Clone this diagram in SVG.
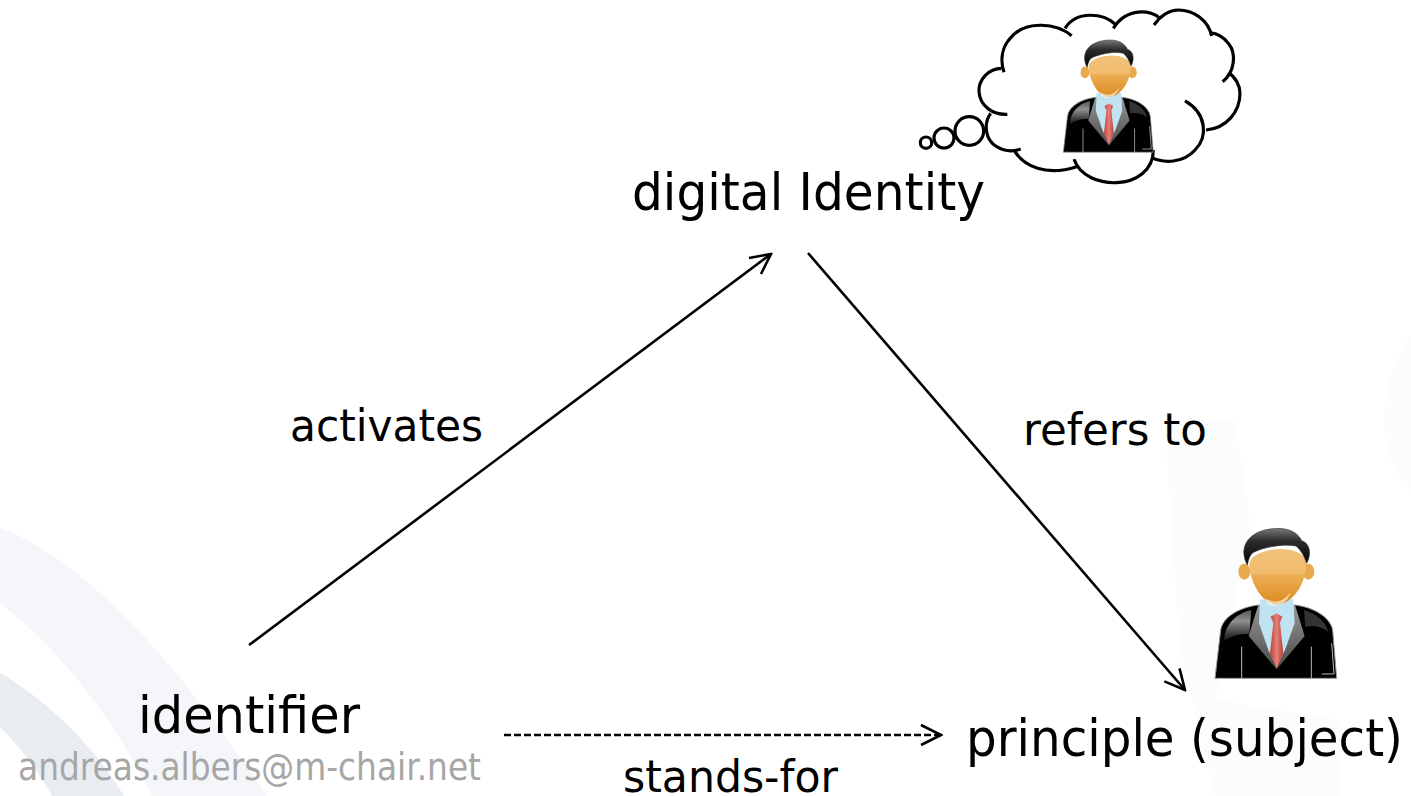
<svg xmlns="http://www.w3.org/2000/svg" xmlns:xlink="http://www.w3.org/1999/xlink" width="1411" height="796" viewBox="0 0 1411 796">
<style>
text{font-family:"DejaVu Sans","Noto Sans",sans-serif;fill:#000}
.big{font-size:51px}
.lbl{font-size:45px}
.conn{fill:none;stroke:#000;stroke-width:2.6}
.cl{fill:none;stroke:#000;stroke-width:9.5;stroke-linecap:butt}
</style>
<defs>
<marker id="arr" viewBox="-22 -12 24 24" markerWidth="24" markerHeight="24" refX="0" refY="0" orient="auto" markerUnits="userSpaceOnUse"><path d="M-20,-10 L0,0 L-20,10" fill="none" stroke="#000" stroke-width="2.6"/></marker>
<linearGradient id="face" x1="0" y1="0" x2="0" y2="1"><stop offset="0" stop-color="#f2c27c"/><stop offset=".45" stop-color="#f1bb6c"/><stop offset=".46" stop-color="#eeae55"/><stop offset="1" stop-color="#dc8a1e"/></linearGradient>
<linearGradient id="hair" x1="0" y1="0" x2="0" y2="1"><stop offset="0" stop-color="#777"/><stop offset=".35" stop-color="#2c2c2c"/><stop offset="1" stop-color="#000"/></linearGradient>
<linearGradient id="shine" x1="0" y1="0" x2="0" y2="1"><stop offset="0" stop-color="#555"/><stop offset=".35" stop-color="#8f8f8f"/><stop offset="1" stop-color="#0a0a0a"/></linearGradient>
<linearGradient id="lap" x1="0" y1="0" x2="0" y2="1"><stop offset="0" stop-color="#969696"/><stop offset="1" stop-color="#4a4a4a"/></linearGradient>
<linearGradient id="tie" x1="0" y1="0" x2="1" y2="0"><stop offset="0" stop-color="#b8403a"/><stop offset=".5" stop-color="#e88078"/><stop offset="1" stop-color="#b8403a"/></linearGradient>
<symbol id="person" overflow="visible" viewBox="0 0 783 600" width="783" height="600">
<path d="M195,505 L212,360 C218,320 270,292 325,285 L435,285 C490,292 540,320 548,360 L560,505 Z" fill="#000" stroke="#999" stroke-width="3"/>
<path d="M222,395 C222,340 265,308 304,300 L298,372 C270,370 240,378 222,395 Z" fill="url(#shine)"/>
<path d="M462,300 C495,310 525,330 535,365 C515,350 490,345 466,350 Z" fill="#333"/>
<path d="M325,285 L296,378 L380,478 L464,378 L435,285 Z" fill="url(#lap)"/>
<path d="M330,268 L430,268 L434,340 L405,420 L380,470 L355,420 L327,340 Z" fill="#bfe3f1"/>
<path d="M362,320 L380,310 L397,320 L390,338 L400,430 L380,475 L360,430 L370,338 Z" fill="url(#tie)"/>
<path d="M275,410 L275,505 M484,410 L484,505 M515,492 L552,492 L545,400" fill="none" stroke="#bbb" stroke-width="3"/>
<ellipse cx="283" cy="185" rx="18" ry="24" fill="#e9a94e"/>
<ellipse cx="475" cy="185" rx="18" ry="24" fill="#e9a94e"/>
<path d="M298,165 C296,110 465,95 468,160 C470,215 430,282 380,284 C335,282 300,215 298,165 Z" fill="url(#face)"/>
<path d="M345,265 C380,285 405,270 422,245 C410,295 350,300 345,265 Z" fill="#fff" opacity=".6"/>
<path d="M292,165 C268,120 285,75 345,60 C395,48 440,58 455,92 C482,100 484,135 470,160 C462,135 450,118 438,108 C400,100 335,112 306,130 C298,140 295,150 292,165 Z" fill="url(#hair)" stroke="#333" stroke-width="2"/>
</symbol>
</defs>
<rect width="1411" height="796" fill="#fff"/>
<g id="background">
<path d="M0,528 C90,560 190,680 267,796 L152,796 C115,720 60,650 0,603 Z" fill="#f4f6f9"/>
<path d="M0,673 C55,705 100,755 124,796 L52,796 C38,770 18,745 0,727 Z" fill="#e9edf1"/>
<path d="M1165,425 L1235,420 L1250,520 L1215,700 L1340,720 L1340,796 L1215,796 L1180,650 Z" fill="#fbfcfd"/>
<path d="M1411,335 C1385,370 1375,430 1395,470 L1411,490 Z" fill="#fbfcfd"/>
</g>
<g id="connectors">
<path class="conn" d="M249,645 L771,254" marker-end="url(#arr)"/>
<path class="conn" d="M808,253 L1185,690" marker-end="url(#arr)"/>
<path class="conn" d="M504,735 L941,735" stroke-dasharray="7 3" marker-end="url(#arr)"/>
</g>
<g id="thought-cloud" transform="translate(900 0) scale(.33333)">
<path class="cl" d="M515,107 C470,70 380,60 335,110 C305,140 300,180 312,217"/>
<path class="cl" d="M305,205 C265,205 235,240 237,275 C240,320 280,345 322,343"/>
<path class="cl" d="M272,340 C250,370 255,420 290,440 C315,455 340,455 362,447"/>
<path class="cl" d="M342,450 C370,500 440,530 530,500"/>
<path class="cl" d="M522,478 C540,530 600,550 650,548 C710,545 760,510 760,450"/>
<path class="cl" d="M755,473 C790,490 850,490 885,450 C925,410 920,340 855,303"/>
<path class="cl" d="M918,390 C980,385 1020,335 1020,280 C1020,255 1005,230 985,218"/>
<path class="cl" d="M968,245 C1005,215 1010,160 985,130 C970,110 950,100 930,98"/>
<path class="cl" d="M935,108 C925,60 880,30 835,30 C805,30 780,50 762,75"/>
<path class="cl" d="M780,55 C755,30 680,20 640,85"/>
<path class="cl" d="M645,72 C610,40 530,30 495,85"/>
<circle class="cl" cx="208" cy="393" r="43"/>
<circle class="cl" cx="132" cy="414" r="30"/>
<circle class="cl" cx="78" cy="428" r="17"/>
</g>
<g id="person-thought" transform="translate(1015.2 26.2) scale(.2466 .2496)"><use xlink:href="#person" href="#person"/></g>
<g id="person-subject" transform="translate(1150 510) scale(.33333)"><use xlink:href="#person" href="#person"/></g>
<g id="node-digital-identity"><text class="big" x="632" y="210" textLength="353" lengthAdjust="spacingAndGlyphs">digital Identity</text></g>
<g id="node-identifier"><text class="big" x="138" y="733" textLength="222" lengthAdjust="spacingAndGlyphs">identifier</text></g>
<g id="node-principle"><text class="big" x="966" y="756" textLength="437" lengthAdjust="spacingAndGlyphs">principle (subject)</text></g>
<g id="labels">
<text class="lbl" x="290" y="441" textLength="193" lengthAdjust="spacingAndGlyphs">activates</text>
<text class="lbl" x="1023" y="445" textLength="184" lengthAdjust="spacingAndGlyphs">refers to</text>
<text class="lbl" x="623" y="792" textLength="215" lengthAdjust="spacingAndGlyphs">stands-for</text>
</g>
<g id="footer"><text x="18" y="780" font-size="37" style="fill:#a6a6a6" textLength="463" lengthAdjust="spacingAndGlyphs">andreas.albers@m-chair.net</text></g>
</svg>
